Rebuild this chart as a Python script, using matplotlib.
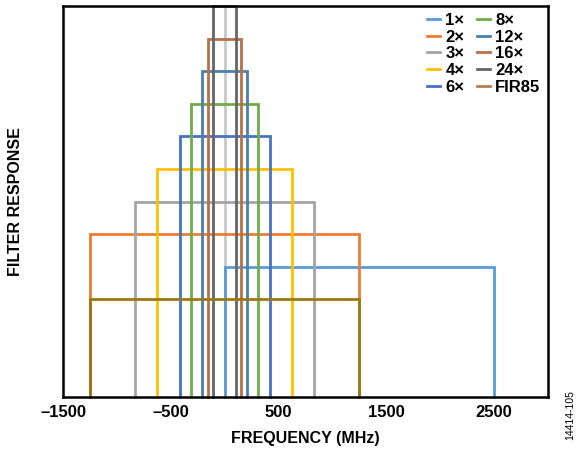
import matplotlib
matplotlib.use("Agg")
import matplotlib.pyplot as plt
from matplotlib.lines import Line2D

plt.rcParams['font.family'] = ['Liberation Sans', 'DejaVu Sans']

# filter passbands: half-width (MHz) and drawn height
labels = ["1×", "2×", "3×", "4×", "6×", "8×", "12×", "16×", "24×", "FIR85"]
half_widths = [1250, 1250, 833, 625, 417, 312.5, 208, 156, 104, 1250]
heights = [4, 5, 6, 7, 8, 9, 10, 11, 12, 3]
centers = [1250, 0, 0, 0, 0, 0, 0, 0, 0, 0]
line_colors = ["#5B9BD5", "#ED7D31", "#A5A5A5", "#FFC000", "#4472C4",
               "#70AD47", "#4A7EAD", "#B5714A", "#666666", "#9A7A10"]
legend_colors = line_colors[:9] + ["#BA7C55"]

xticks = [-1500, -500, 500, 1500, 2500]
xtick_labels = ["–1500", "–500", "500", "1500", "2500"]

fig = plt.figure(figsize=(5.77, 4.51), dpi=100)
ax = fig.add_axes([0.1092, 0.1204, 0.8405, 0.8656])

# vertical axis line at 0 (Excel style)
ax.axvline(0, color="#C8C8C8", lw=2, zorder=1)

for c, hw, h, col in zip(centers, half_widths, heights, line_colors):
    xs = [c - hw, c - hw, c + hw, c + hw]
    ys = [0, h, h, 0]
    ax.plot(xs, ys, color=col, lw=2, solid_joinstyle="miter", clip_on=False, zorder=2)

ax.set_xlim(-1500, 3000)
ax.set_ylim(0, 12)
ax.set_xticks(xticks)
ax.set_xticklabels(xtick_labels, fontsize=12, fontweight="bold")
ax.set_yticks([])
ax.tick_params(axis="x", length=0, pad=6)

for s in ax.spines.values():
    s.set_linewidth(1.8)
    s.set_color("black")
    s.set_zorder(3)

ax.set_xlabel("FREQUENCY (MHz)", fontsize=11.5, fontweight="bold", labelpad=8)
ax.set_ylabel("FILTER RESPONSE", fontsize=11.5, fontweight="bold", labelpad=0)
ax.yaxis.set_label_coords(-0.082, 0.5)

handles = [Line2D([], [], color=c, lw=2) for c in legend_colors]
leg = fig.legend(handles, labels, ncol=2, loc="upper left",
                 bbox_to_anchor=(427 / 577, 1 - 13 / 451),
                 frameon=False, borderpad=0, borderaxespad=0,
                 handlelength=0.8, handletextpad=0.3, columnspacing=0.75,
                 labelspacing=0.1, prop={"weight": "bold", "size": 12})

fig.text(0.988, 0.025, "14414-105", rotation=90, fontsize=7.5, ha="center", va="bottom")

fig.savefig("out.png", dpi=100)
